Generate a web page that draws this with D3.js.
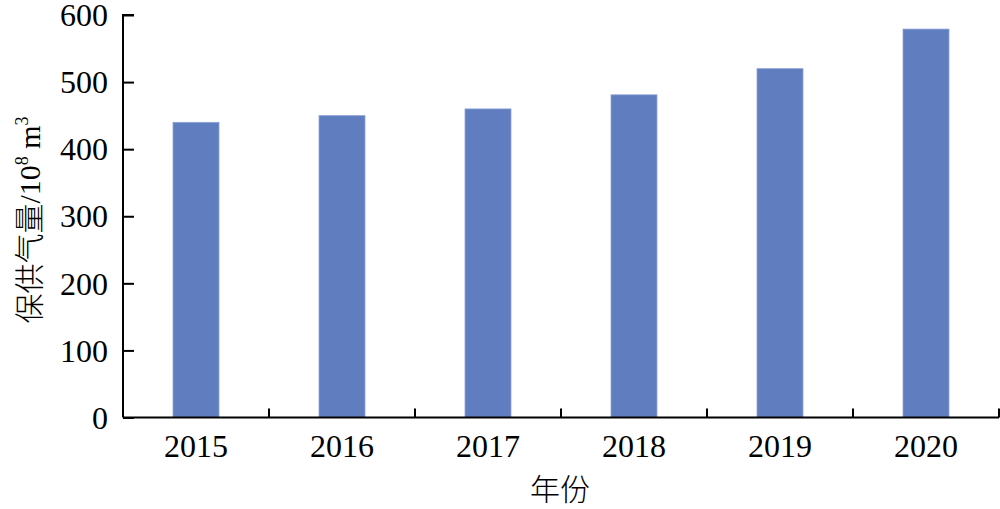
<!DOCTYPE html>
<html><head><meta charset="utf-8">
<script src="https://cdn.jsdelivr.net/npm/d3@7"></script>
<style>body{margin:0;background:#fff}</style>
</head><body>
<svg id="c" width="1000" height="509"></svg>
<script>
const categories = ["2015","2016","2017","2018","2019","2020"];
const values = [440, 450, 460, 481, 520, 579];
const yTicks = [0,100,200,300,400,500,600];

const svg = d3.select("#c");
const m = {left:123, right:999, top:15, bottom:417.5};
const x = d3.scaleBand().domain(categories).range([m.left, m.right]).paddingInner(0.685).paddingOuter(0.3425);
const y = d3.scaleLinear().domain([0,600]).range([m.bottom, m.top]);
const serif = "'Liberation Serif','Times New Roman',serif";

svg.selectAll("rect.bar").data(values).enter().append("rect")
  .attr("class","bar")
  .attr("x",(d,i)=>x(categories[i]))
  .attr("y",d=>y(d))
  .attr("width",x.bandwidth())
  .attr("height",d=>y(0)-y(d))
  .attr("fill","#607dc0")
  .attr("stroke","#8ea3d6").attr("stroke-width",0.8);

// y axis
const ya = svg.append("g").attr("transform",`translate(${m.left},0)`)
  .call(d3.axisRight(y).tickValues(yTicks).tickSize(11).tickFormat(""));
ya.select(".domain").attr("stroke","#000").attr("stroke-width",2).attr("d",`M11,${m.top}H0V${m.bottom}`);
ya.selectAll(".tick line").attr("stroke","#000").attr("stroke-width",2);
svg.selectAll("text.yl").data(yTicks).enter().append("text").attr("class","yl")
  .attr("x",108).attr("y",d=>y(d)).attr("dy","0.35em").attr("text-anchor","end")
  .attr("font-family",serif).attr("font-size",32).text(d=>d);

// x axis
const bounds = categories.map(c=>x(c)-x.step()*x.paddingInner()/2).concat([m.right]);
svg.append("line").attr("x1",m.left).attr("x2",m.right).attr("y1",m.bottom).attr("y2",m.bottom)
  .attr("stroke","#000").attr("stroke-width",2);
svg.selectAll("line.xt").data(bounds.slice(1)).enter().append("line").attr("class","xt")
  .attr("x1",d=>d).attr("x2",d=>d).attr("y1",m.bottom).attr("y2",m.bottom-9)
  .attr("stroke","#000").attr("stroke-width",2);
svg.selectAll("text.xl").data(categories).enter().append("text").attr("class","xl")
  .attr("x",d=>x(d)+x.bandwidth()/2).attr("y",457).attr("text-anchor","middle")
  .attr("font-family",serif).attr("font-size",32).text(d=>d);

// titles
svg.append("text").attr("x",560).attr("y",500).attr("text-anchor","middle")
  .attr("font-family","'Noto Sans CJK SC',sans-serif").attr("font-weight",300).attr("font-size",30).text("年份");
const yt = svg.append("text").attr("transform","translate(40,220) rotate(-90)").attr("text-anchor","middle")
  .attr("font-size",30);
yt.append("tspan").attr("font-family","'Noto Sans CJK SC',sans-serif").attr("font-weight",300).text("保供气量");
yt.append("tspan").attr("font-family",serif).text("/10");
yt.append("tspan").attr("font-family",serif).attr("font-size",18).attr("dy",-12).text("8");
yt.append("tspan").attr("font-family",serif).attr("dy",12).text(" m");
yt.append("tspan").attr("font-family",serif).attr("font-size",18).attr("dy",-12).text("3");
</script>
</body></html>
